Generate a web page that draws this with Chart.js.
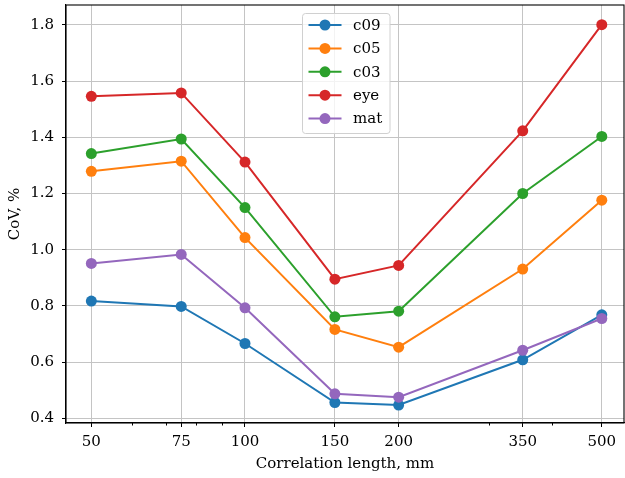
<!DOCTYPE html>
<html lang="en">
<head>
    <meta charset="UTF-8">
    <title>CoV vs correlation length</title>
    <script src="https://cdn.jsdelivr.net/npm/chart.js"></script>
    <style>
        body {
            margin: 0;
            background: #fff;
        }
        #wrap {
            width: 625px;
            height: 478px;
        }
    </style>
</head>
<body>
    <div id="wrap"><canvas id="covChart" width="625" height="478"></canvas></div>

    <script>
        // Data
        const lengths = [50, 75, 100, 150, 200, 350, 500];
        const minorTicks = [60, 70, 80, 90, 300, 400];
        const yTicks = [0.4, 0.6, 0.8, 1.0, 1.2, 1.4, 1.6, 1.8];

        const c09 = [0.817, 0.798, 0.666, 0.456, 0.447, 0.608, 0.768];
        const c05 = [1.279, 1.315, 1.043, 0.716, 0.653, 0.931, 1.176];
        const c03 = [1.342, 1.394, 1.150, 0.761, 0.781, 1.200, 1.403];
        const eye = [1.546, 1.558, 1.312, 0.895, 0.944, 1.423, 1.801];
        const mat = [0.951, 0.983, 0.793, 0.487, 0.475, 0.642, 0.755];

        const seriesNames = ['c09', 'c05', 'c03', 'eye', 'mat'];
        const seriesData = [c09, c05, c03, eye, mat];
        const colors = ['#1f77b4', '#ff7f0e', '#2ca02c', '#d62728', '#9467bd'];

        const FONT = 'DejaVu Serif';
        const FS = 15;

        function makeDataset(i) {
            return {
                label: seriesNames[i],
                data: lengths.map((x, k) => ({ x: x, y: seriesData[i][k] })),
                borderColor: colors[i],
                backgroundColor: colors[i],
                borderWidth: 2,
                pointRadius: 5.5,
                pointBorderWidth: 0,
                pointBackgroundColor: colors[i],
                order: seriesNames.length - i, // later series drawn on top
                tension: 0
            };
        }

        // frame, minor ticks and an in-axes legend
        const extrasPlugin = {
            id: 'extras',
            beforeDatasetsDraw(chart) {
                const ctx = chart.ctx;
                const a = chart.chartArea;
                const xs = chart.scales.x;
                ctx.save();
                ctx.strokeStyle = '#000';
                ctx.lineWidth = 1;
                minorTicks.forEach(v => {
                    const px = Math.round(xs.getPixelForValue(v)) + 0.5;
                    ctx.beginPath();
                    ctx.moveTo(px, a.bottom);
                    ctx.lineTo(px, a.bottom + 2.5);
                    ctx.stroke();
                });
                ctx.restore();
            },
            afterDraw(chart) {
                const ctx = chart.ctx;
                const a = chart.chartArea;
                ctx.save();
                ctx.strokeStyle = '#000';
                ctx.lineWidth = 1.1;
                ctx.strokeRect(a.left, a.top, a.right - a.left, a.bottom - a.top);

                // legend
                const bx = 302.5, by = 13.5, bw = 87.5, bh = 120;
                ctx.beginPath();
                ctx.roundRect(bx, by, bw, bh, 3);
                ctx.fillStyle = 'rgba(255,255,255,0.8)';
                ctx.fill();
                ctx.strokeStyle = '#d0d0d0';
                ctx.lineWidth = 1;
                ctx.stroke();

                ctx.font = FS + 'px "' + FONT + '"';
                ctx.textBaseline = 'middle';
                ctx.textAlign = 'left';
                seriesNames.forEach((name, i) => {
                    const y = 25 + i * 23.4;
                    ctx.strokeStyle = colors[i];
                    ctx.lineWidth = 2;
                    ctx.beginPath();
                    ctx.moveTo(308.5, y);
                    ctx.lineTo(341.5, y);
                    ctx.stroke();
                    ctx.fillStyle = colors[i];
                    ctx.beginPath();
                    ctx.arc(325, y, 5.5, 0, Math.PI * 2);
                    ctx.fill();
                    ctx.fillStyle = '#000';
                    ctx.fillText(name, 353, y + 1);
                });
                ctx.restore();
            }
        };

        new Chart(document.getElementById('covChart'), {
            type: 'line',
            data: { datasets: seriesNames.map((n, i) => makeDataset(i)) },
            options: {
                responsive: false,
                animation: false,
                layout: { autoPadding: false, padding: { left: 0, top: 5, right: 1, bottom: 0 } },
                plugins: {
                    legend: { display: false },
                    tooltip: { enabled: false }
                },
                scales: {
                    x: {
                        type: 'logarithmic',
                        min: 44.6,
                        max: 552.7,
                        afterBuildTicks: s => { s.ticks = lengths.map(v => ({ value: v })); },
                        afterFit: s => {
                            s.height = 55;
                            s.paddingLeft = 0;
                            s.paddingRight = 0;
                        },
                        ticks: {
                            color: '#000',
                            font: { family: FONT, size: FS },
                            padding: 6,
                            maxRotation: 0,
                            autoSkip: false,
                            callback: v => String(v)
                        },
                        grid: {
                            color: '#c4c4c4',
                            lineWidth: 1,
                            tickColor: '#000',
                            tickLength: 4,
                            tickWidth: 1
                        },
                        border: { color: '#000', width: 1.1 },
                        title: {
                            display: true,
                            text: 'Correlation length, mm',
                            color: '#000',
                            font: { family: FONT, size: FS },
                            padding: { top: 0, bottom: 5 }
                        }
                    },
                    y: {
                        min: 0.383,
                        max: 1.871,
                        afterBuildTicks: s => { s.ticks = yTicks.map(v => ({ value: v })); },
                        afterFit: s => {
                            s.width = 66;
                            s.paddingTop = 0;
                            s.paddingBottom = 0;
                        },
                        ticks: {
                            color: '#000',
                            font: { family: FONT, size: FS },
                            padding: 8,
                            callback: v => Number(v).toFixed(1)
                        },
                        grid: {
                            color: '#c4c4c4',
                            lineWidth: 1,
                            tickColor: '#000',
                            tickLength: 4,
                            tickWidth: 1
                        },
                        border: { color: '#000', width: 1.1 },
                        title: {
                            display: true,
                            text: 'CoV, %',
                            color: '#000',
                            font: { family: FONT, size: FS },
                            padding: { top: 6, bottom: 0 }
                        }
                    }
                }
            },
            plugins: [extrasPlugin]
        });
    </script>
</body>
</html>
